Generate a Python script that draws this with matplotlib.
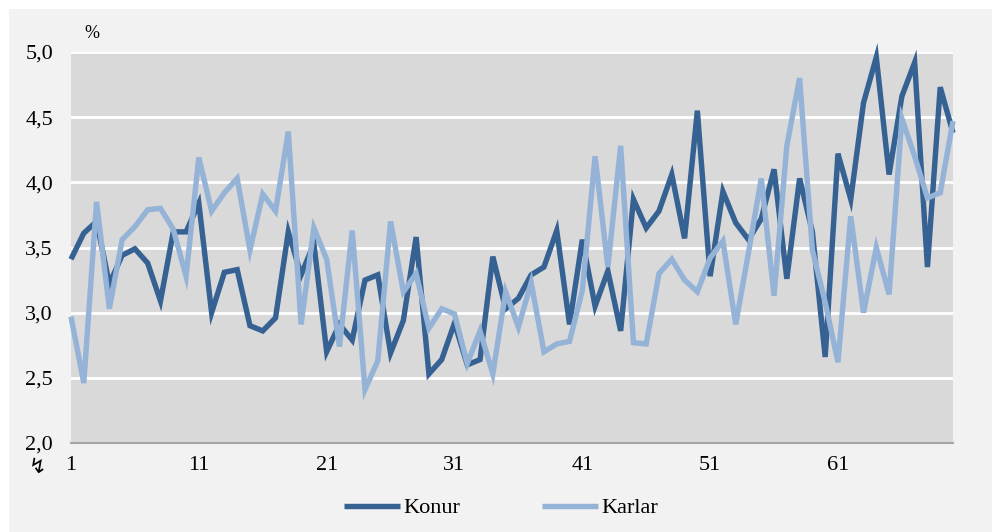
import matplotlib
matplotlib.use("Agg")
import matplotlib.pyplot as plt
from matplotlib.patches import Rectangle
import numpy as np

# values, %
periods = list(range(1, 71))
konur = [3.41, 3.61, 3.70, 3.22, 3.44, 3.49, 3.38, 3.09, 3.62, 3.62,
         3.84, 3.00, 3.31, 3.33, 2.90, 2.86, 2.96, 3.62, 3.29, 3.53,
         2.70, 2.91, 2.79, 3.25, 3.29, 2.69, 2.94, 3.58, 2.53, 2.64,
         2.92, 2.60, 2.64, 3.43, 3.03, 3.11, 3.29, 3.35, 3.63, 2.91,
         3.56, 3.05, 3.32, 2.86, 3.87, 3.65, 3.78, 4.06, 3.57, 4.55,
         3.28, 3.93, 3.69, 3.56, 3.72, 4.10, 3.26, 4.03, 3.62, 2.66,
         4.22, 3.87, 4.61, 4.96, 4.06, 4.66, 4.92, 3.35, 4.73, 4.38]
karlar = [2.97, 2.46, 3.85, 3.03, 3.56, 3.66, 3.79, 3.80, 3.64, 3.28,
          4.19, 3.78, 3.92, 4.03, 3.48, 3.91, 3.78, 4.39, 2.91, 3.65,
          3.41, 2.74, 3.63, 2.41, 2.63, 3.70, 3.16, 3.30, 2.88, 3.03,
          2.99, 2.61, 2.86, 2.53, 3.16, 2.89, 3.23, 2.70, 2.76, 2.78,
          3.17, 4.20, 3.35, 4.28, 2.77, 2.76, 3.30, 3.41, 3.25, 3.16,
          3.42, 3.55, 2.91, 3.46, 4.03, 3.13, 4.28, 4.80, 3.48, 3.08,
          2.62, 3.74, 3.00, 3.50, 3.14, 4.49, 4.20, 3.88, 3.92, 4.47]
xticks = [1, 11, 21, 31, 41, 51, 61]
yticks = [2.0, 2.5, 3.0, 3.5, 4.0, 4.5, 5.0]

plt.rcParams['font.family'] = ['Liberation Serif', 'DejaVu Sans']

W, H = 998, 532
fig = plt.figure(figsize=(W / 100, H / 100), dpi=100)
fig.patch.set_facecolor('white')
# light grey panel behind the chart
fig.patches.append(Rectangle((9 / W, 0), (992 - 9) / W, (H - 9) / H,
                             transform=fig.transFigure, facecolor='#f2f2f2',
                             edgecolor='none', zorder=-10))

ax = fig.add_axes([71 / W, 1 - 443 / H, (953 - 71) / W, (443 - 52) / H])
ax.set_facecolor('#d9d9d9')

ax.plot(periods, konur, color='#356193', lw=3.9, label='Konur',
        solid_joinstyle='miter', solid_capstyle='butt', zorder=3,
        clip_on=False)
ax.plot(periods, karlar, color='#95b3d7', lw=3.9, label='Karlar',
        solid_joinstyle='miter', solid_capstyle='butt', zorder=3,
        clip_on=False)

ax.set_xlim(1, 70)
ax.set_ylim(2.0, 5.0)
ax.set_yticks(yticks)
ax.set_yticklabels([f"{v:.1f}".replace('.', ',') for v in yticks])
ax.set_xticks(xticks)
ax.set_xticklabels([str(v) for v in xticks])
ax.tick_params(length=0, labelsize=16, colors='#000000')
ax.tick_params(axis='y', pad=13)
ax.tick_params(axis='x', pad=9)

ax.grid(axis='y', color='white', lw=2)
ax.set_axisbelow(True)
for side in ['top', 'right', 'left']:
    ax.spines[side].set_visible(False)
ax.spines['bottom'].set_color('#a6a6a6')
ax.spines['bottom'].set_linewidth(1.5)
ax.spines['bottom'].set_zorder(4)

fig.text(92 / W, 1 - 33 / H, '%', fontsize=13, ha='center', va='center')
fig.text(38 / W, 1 - 467 / H, '\u21af', fontsize=15, ha='center',
         va='center', family=['DejaVu Sans'])

fig.legend(loc='center', bbox_to_anchor=(501 / W, 1 - 508 / H), ncol=2,
           frameon=False, fontsize=16, handlelength=2.5, handletextpad=0.15,
           columnspacing=3.7)

fig.savefig('out.png', dpi=100, facecolor=fig.get_facecolor())
